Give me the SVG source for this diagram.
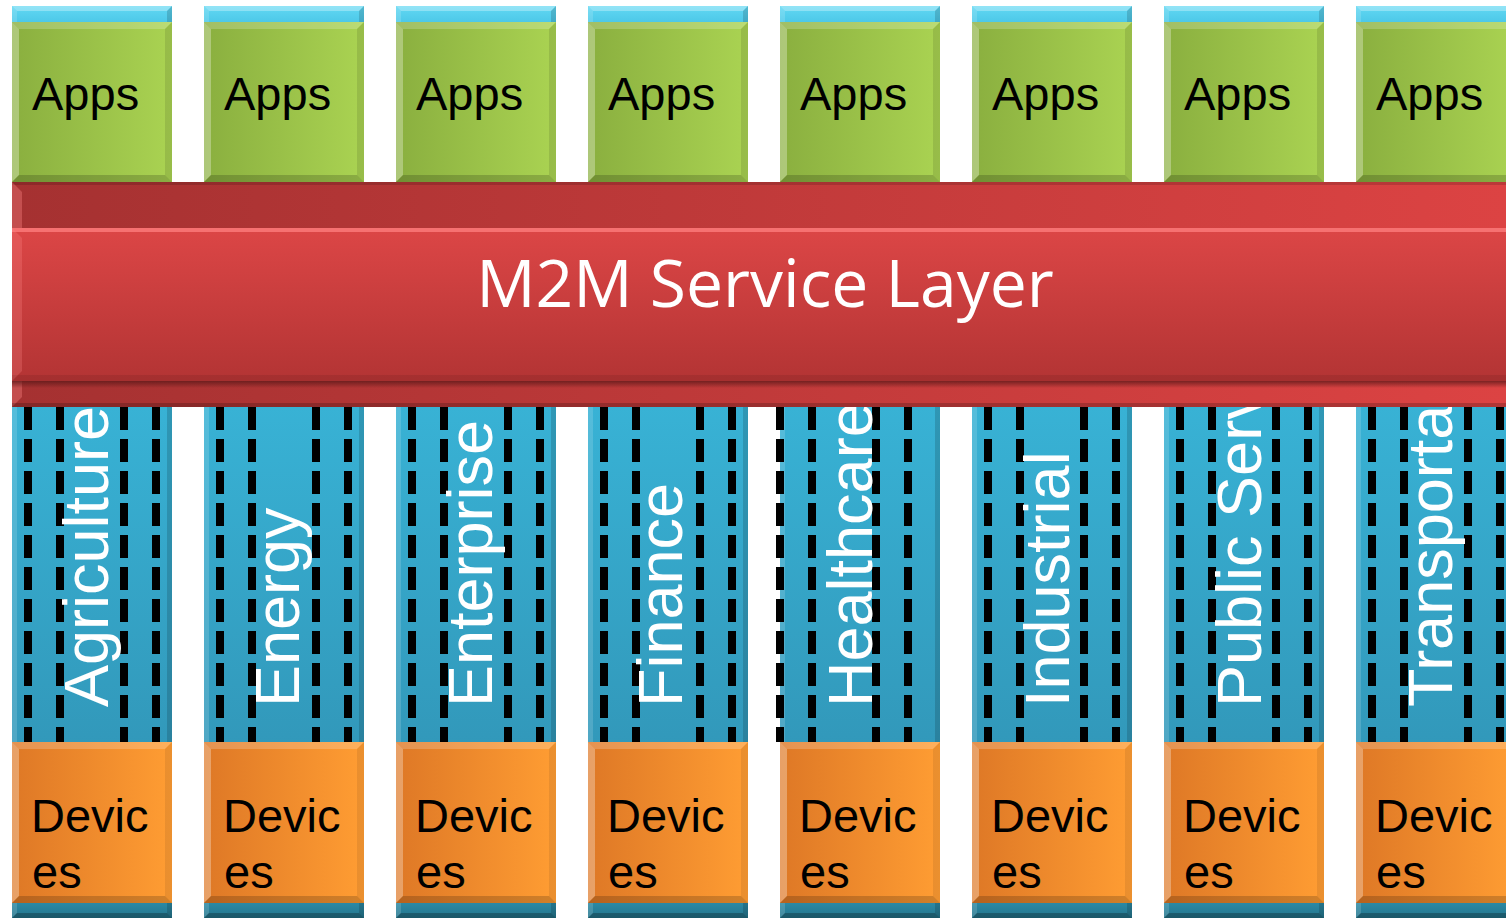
<svg xmlns="http://www.w3.org/2000/svg" width="1506" height="920" viewBox="0 0 1506 920">
<style>
.lbl{font-family:"Liberation Sans",Arial,sans-serif;font-size:47px;fill:#000}
.vt{font-family:"Liberation Sans",Arial,sans-serif;font-size:63px;fill:#fff}
.title{font-family:"Open Sans","Noto Sans",sans-serif;font-size:66px;fill:#fff;text-anchor:middle}
.dash{stroke:#000;stroke-width:8;stroke-dasharray:23 9;fill:none}
.hl{fill:#fff}
.sh{fill:#000}
.rhl{fill:#ff8a8a}
</style>
<defs>
<linearGradient id="gBlue" x1="0" y1="0" x2="0" y2="1">
<stop offset="0" stop-color="#62d8f3"/>
<stop offset="0.018" stop-color="#4cc8e8"/>
<stop offset="0.44" stop-color="#38b2d5"/>
<stop offset="0.8" stop-color="#3299bb"/>
<stop offset="0.982" stop-color="#2c8ba7"/>
<stop offset="1" stop-color="#24758c"/>
</linearGradient>
<linearGradient id="gApps" x1="0" y1="0" x2="1" y2="0">
<stop offset="0" stop-color="#8aaf3f"/>
<stop offset="1" stop-color="#aad352"/>
</linearGradient>
<linearGradient id="gDev" x1="0" y1="0" x2="1" y2="0">
<stop offset="0" stop-color="#de7826"/>
<stop offset="1" stop-color="#ff9d33"/>
</linearGradient>
<linearGradient id="gRedH" gradientUnits="userSpaceOnUse" x1="12" y1="0" x2="1506" y2="0">
<stop offset="0" stop-color="#a53131"/>
<stop offset="1" stop-color="#dc4343"/>
</linearGradient>
<linearGradient id="gRedV" x1="0" y1="0" x2="0" y2="1">
<stop offset="0" stop-color="#dc4646"/>
<stop offset="1" stop-color="#b33434"/>
</linearGradient>
<linearGradient id="gShadow" x1="0" y1="0" x2="0" y2="1">
<stop offset="0" stop-color="#5a1818" stop-opacity="0.75"/>
<stop offset="1" stop-color="#5a1818" stop-opacity="0"/>
</linearGradient>
<clipPath id="clipMid"><rect x="0" y="407" width="1506" height="335"/></clipPath>
<g id="blueCol">
<rect x="0" y="0" width="160" height="912" fill="url(#gBlue)"/>
<polygon class="hl" opacity="0.3" points="0,0 160,0 155,5 5,5"/>
<polygon class="hl" opacity="0.15" points="0,0 5,5 5,907 0,912"/>
<polygon class="sh" opacity="0.15" points="160,0 160,912 155,907 155,5"/>
<polygon class="sh" opacity="0.25" points="0,912 160,912 155,907 5,907"/>
</g>
<g id="appsBox">
<rect x="0" y="0" width="160" height="160" fill="url(#gApps)"/>
<polygon class="hl" opacity="0.2" points="0,0 160,0 153,7 7,7"/>
<polygon class="hl" opacity="0.3" points="0,0 7,7 7,153 0,160"/>
<polygon class="sh" opacity="0.1" points="160,0 160,160 153,153 153,7"/>
<polygon class="sh" opacity="0.18" points="0,160 160,160 153,153 7,153"/>
</g>
<g id="devBox">
<rect x="0" y="0" width="160" height="161" fill="url(#gDev)"/>
<polygon class="hl" opacity="0.2" points="0,0 160,0 153,7 7,7"/>
<polygon class="hl" opacity="0.3" points="0,0 7,7 7,154 0,161"/>
<polygon class="sh" opacity="0.08" points="160,0 160,161 153,154 153,7"/>
<polygon class="sh" opacity="0.18" points="0,161 160,161 153,154 7,154"/>
</g>
</defs>

<g id="sector-agriculture">
<use href="#blueCol" x="12" y="6"/>
<line class="dash" x1="28" y1="407" x2="28" y2="742"/><line class="dash" x1="60" y1="407" x2="60" y2="742"/><line class="dash" x1="124" y1="407" x2="124" y2="742"/><line class="dash" x1="156" y1="407" x2="156" y2="742"/>
<g clip-path="url(#clipMid)"><text class="vt" transform="translate(108,707) rotate(-90)">Agriculture</text></g>
</g>
<g id="sector-energy">
<use href="#blueCol" x="204" y="6"/>
<line class="dash" x1="220" y1="407" x2="220" y2="742"/><line class="dash" x1="252" y1="407" x2="252" y2="742"/><line class="dash" x1="316" y1="407" x2="316" y2="742"/><line class="dash" x1="348" y1="407" x2="348" y2="742"/>
<g clip-path="url(#clipMid)"><text class="vt" transform="translate(299,707) rotate(-90)">Energy</text></g>
</g>
<g id="sector-enterprise">
<use href="#blueCol" x="396" y="6"/>
<line class="dash" x1="412" y1="407" x2="412" y2="742"/><line class="dash" x1="444" y1="407" x2="444" y2="742"/><line class="dash" x1="508" y1="407" x2="508" y2="742"/><line class="dash" x1="540" y1="407" x2="540" y2="742"/>
<g clip-path="url(#clipMid)"><text class="vt" transform="translate(492,707) rotate(-90)">Enterprise</text></g>
</g>
<g id="sector-finance">
<use href="#blueCol" x="588" y="6"/>
<line class="dash" x1="604" y1="407" x2="604" y2="742"/><line class="dash" x1="636" y1="407" x2="636" y2="742"/><line class="dash" x1="700" y1="407" x2="700" y2="742"/><line class="dash" x1="732" y1="407" x2="732" y2="742"/>
<g clip-path="url(#clipMid)"><text class="vt" transform="translate(682,707) rotate(-90)">Finance</text></g>
</g>
<g id="sector-healthcare">
<use href="#blueCol" x="780" y="6"/>
<line class="dash" x1="780" y1="407" x2="780" y2="742"/><line class="dash" x1="812" y1="407" x2="812" y2="742"/><line class="dash" x1="876" y1="407" x2="876" y2="742"/><line class="dash" x1="908" y1="407" x2="908" y2="742"/>
<g clip-path="url(#clipMid)"><text class="vt" transform="translate(872,707) rotate(-90)">Healthcare</text></g>
</g>
<g id="sector-industrial">
<use href="#blueCol" x="972" y="6"/>
<line class="dash" x1="988" y1="407" x2="988" y2="742"/><line class="dash" x1="1020" y1="407" x2="1020" y2="742"/><line class="dash" x1="1084" y1="407" x2="1084" y2="742"/><line class="dash" x1="1116" y1="407" x2="1116" y2="742"/>
<g clip-path="url(#clipMid)"><text class="vt" transform="translate(1069,707) rotate(-90)">Industrial</text></g>
</g>
<g id="sector-public-services">
<use href="#blueCol" x="1164" y="6"/>
<line class="dash" x1="1180" y1="407" x2="1180" y2="742"/><line class="dash" x1="1212" y1="407" x2="1212" y2="742"/><line class="dash" x1="1276" y1="407" x2="1276" y2="742"/><line class="dash" x1="1308" y1="407" x2="1308" y2="742"/>
<g clip-path="url(#clipMid)"><text class="vt" transform="translate(1261,707) rotate(-90)">Public Services</text></g>
</g>
<g id="sector-transportation">
<use href="#blueCol" x="1356" y="6"/>
<line class="dash" x1="1372" y1="407" x2="1372" y2="742"/><line class="dash" x1="1404" y1="407" x2="1404" y2="742"/><line class="dash" x1="1468" y1="407" x2="1468" y2="742"/><line class="dash" x1="1500" y1="407" x2="1500" y2="742"/>
<g clip-path="url(#clipMid)"><text class="vt" transform="translate(1452,707) rotate(-90)">Transportation</text></g>
</g>

<g id="apps-1"><use href="#appsBox" x="12" y="22"/><text class="lbl" x="32" y="110">Apps</text></g>
<g id="apps-2"><use href="#appsBox" x="204" y="22"/><text class="lbl" x="224" y="110">Apps</text></g>
<g id="apps-3"><use href="#appsBox" x="396" y="22"/><text class="lbl" x="416" y="110">Apps</text></g>
<g id="apps-4"><use href="#appsBox" x="588" y="22"/><text class="lbl" x="608" y="110">Apps</text></g>
<g id="apps-5"><use href="#appsBox" x="780" y="22"/><text class="lbl" x="800" y="110">Apps</text></g>
<g id="apps-6"><use href="#appsBox" x="972" y="22"/><text class="lbl" x="992" y="110">Apps</text></g>
<g id="apps-7"><use href="#appsBox" x="1164" y="22"/><text class="lbl" x="1184" y="110">Apps</text></g>
<g id="apps-8"><use href="#appsBox" x="1356" y="22"/><text class="lbl" x="1376" y="110">Apps</text></g>

<g id="devices-1"><use href="#devBox" x="12" y="742"/><text class="lbl" x="31" y="832">Devic</text><text class="lbl" x="32" y="888">es</text></g>
<g id="devices-2"><use href="#devBox" x="204" y="742"/><text class="lbl" x="223" y="832">Devic</text><text class="lbl" x="224" y="888">es</text></g>
<g id="devices-3"><use href="#devBox" x="396" y="742"/><text class="lbl" x="415" y="832">Devic</text><text class="lbl" x="416" y="888">es</text></g>
<g id="devices-4"><use href="#devBox" x="588" y="742"/><text class="lbl" x="607" y="832">Devic</text><text class="lbl" x="608" y="888">es</text></g>
<g id="devices-5"><use href="#devBox" x="780" y="742"/><text class="lbl" x="799" y="832">Devic</text><text class="lbl" x="800" y="888">es</text></g>
<g id="devices-6"><use href="#devBox" x="972" y="742"/><text class="lbl" x="991" y="832">Devic</text><text class="lbl" x="992" y="888">es</text></g>
<g id="devices-7"><use href="#devBox" x="1164" y="742"/><text class="lbl" x="1183" y="832">Devic</text><text class="lbl" x="1184" y="888">es</text></g>
<g id="devices-8"><use href="#devBox" x="1356" y="742"/><text class="lbl" x="1375" y="832">Devic</text><text class="lbl" x="1376" y="888">es</text></g>

<g id="m2m-service-layer">
<rect x="12" y="182" width="1510" height="225" fill="url(#gRedH)"/>
<rect x="12" y="182" width="1510" height="3" class="sh" opacity="0.15"/>
<polygon class="rhl" opacity="0.35" points="12,182 22,192 22,397 12,407"/>
<rect x="12" y="403" width="1510" height="4" class="sh" opacity="0.2"/>
<rect x="12" y="228" width="1510" height="153" fill="url(#gRedV)"/>
<rect x="12" y="228" width="1510" height="4" fill="#ff8080" opacity="0.75"/>
<polygon class="rhl" opacity="0.25" points="12,228 22,238 22,371 12,381"/>
<rect x="12" y="375" width="1510" height="6" class="sh" opacity="0.08"/>
<rect x="12" y="381" width="1510" height="7" fill="url(#gShadow)"/>
<text class="title" x="765" y="307">M2M Service Layer</text>
</g>
</svg>
